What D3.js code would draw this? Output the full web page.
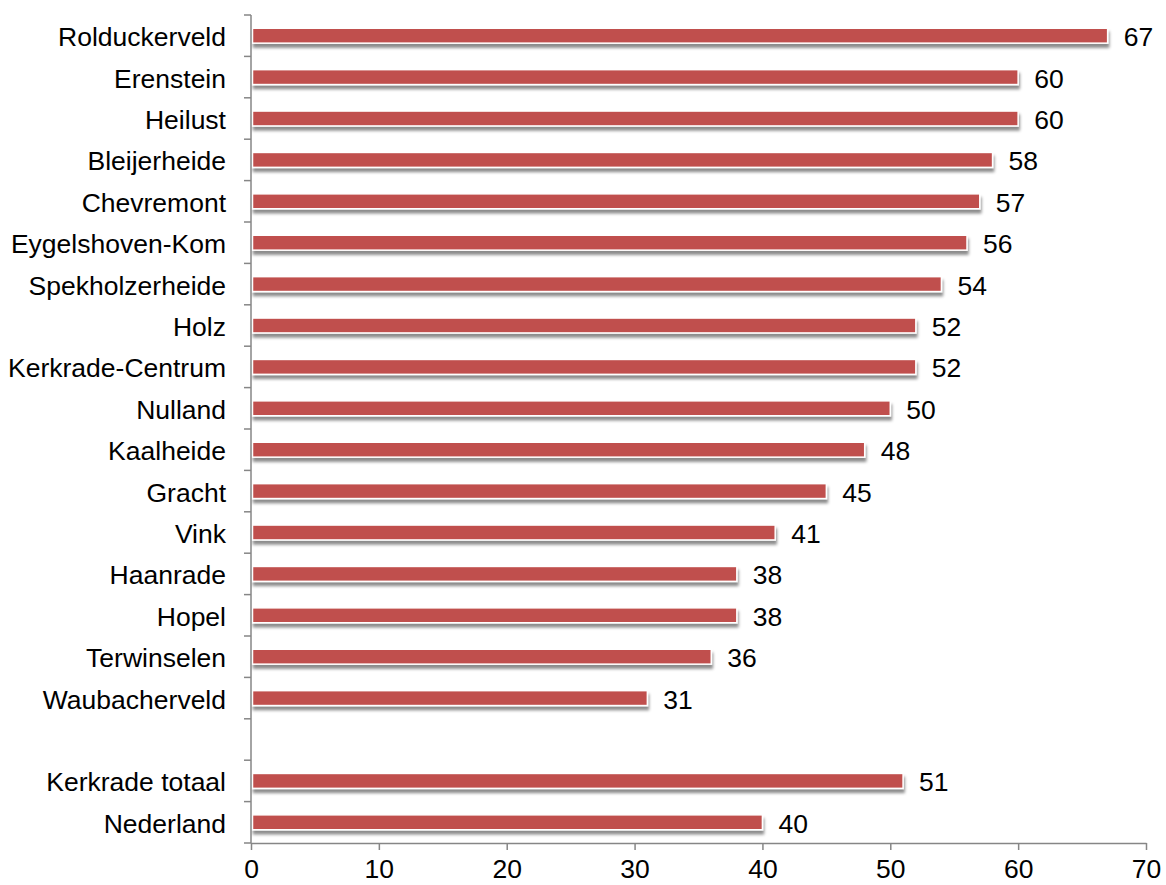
<!DOCTYPE html>
<html><head><meta charset="utf-8">
<script src="https://cdn.jsdelivr.net/npm/d3@7"></script>
<style>body{margin:0;background:#fff;}svg{display:block;font-family:"Liberation Sans",Arial,sans-serif;}</style>
</head><body><svg id="c" width="1166" height="885"></svg>
<script>
const categories = ["Rolduckerveld","Erenstein","Heilust","Bleijerheide","Chevremont","Eygelshoven-Kom","Spekholzerheide","Holz","Kerkrade-Centrum","Nulland","Kaalheide","Gracht","Vink","Haanrade","Hopel","Terwinselen","Waubacherveld","","Kerkrade totaal","Nederland"];
const values = [67,60,60,58,57,56,54,52,52,50,48,45,41,38,38,36,31,null,51,40];
const xTicks = [0,10,20,30,40,50,60,70];

const svg = d3.select("#c");
const m = {left:251, right:1146, top:15, bottom:843};
const FS = 26.5;
const x = d3.scaleLinear().domain([0,70]).range([m.left, m.right]);
const y = d3.scaleBand().domain(categories.map((c,i)=>i)).range([m.top, m.bottom]).paddingInner(0.64).paddingOuter(0.32);

const defs = svg.append("defs");
const f = defs.append("filter").attr("id","sh").attr("x","-5%").attr("y","-50%").attr("width","110%").attr("height","250%");
f.append("feDropShadow").attr("dx",1).attr("dy",4).attr("stdDeviation",1.8).attr("flood-color","#000").attr("flood-opacity",0.45);

const data = categories.map((c,i)=>({c, v: values[i], i})).filter(d=>d.v!==null);

svg.append("g").selectAll("rect").data(data).join("rect")
  .attr("x", x(0)+1.5).attr("y", d=>y(d.i))
  .attr("width", d=>x(d.v)-x(0)-1.5).attr("height", y.bandwidth())
  .attr("fill","#C0504D").attr("stroke","#fff").attr("stroke-width",1.5)
  .attr("filter","url(#sh)");

svg.append("g").selectAll("text").data(data).join("text")
  .attr("x", d=>x(d.v)+16).attr("y", d=>y(d.i)+y.bandwidth()/2+1)
  .attr("dy","0.36em").attr("font-size",FS).attr("fill","#000").text(d=>d.v);

// y axis
const yAxis = svg.append("g");
yAxis.append("line").attr("x1",m.left).attr("x2",m.left).attr("y1",m.top).attr("y2",m.bottom).attr("stroke","#868686").attr("stroke-width",1.5);
const step = (m.bottom-m.top)/categories.length;
yAxis.selectAll("line.t").data(d3.range(categories.length+1)).join("line").attr("class","t")
  .attr("x1",m.left-7).attr("x2",m.left).attr("y1",i=>m.top+i*step).attr("y2",i=>m.top+i*step)
  .attr("stroke","#868686").attr("stroke-width",1.5);
yAxis.selectAll("text").data(categories.map((c,i)=>({c,i}))).join("text")
  .attr("x",226).attr("y",d=>y(d.i)+y.bandwidth()/2+1).attr("dy","0.36em")
  .attr("text-anchor","end").attr("font-size",FS).attr("fill","#000").text(d=>d.c);

// x axis
const xa = svg.append("g").attr("transform",`translate(0,${m.bottom})`)
  .call(d3.axisBottom(x).tickValues(xTicks).tickSize(7).tickPadding(9).tickSizeOuter(0));
xa.select(".domain").attr("stroke","#868686").attr("stroke-width",1.5);
xa.selectAll(".tick line").attr("stroke","#868686").attr("stroke-width",1.5);
xa.selectAll(".tick text").attr("font-size",FS).attr("fill","#000").attr("font-family","Liberation Sans, Arial, sans-serif");
</script></body></html>
